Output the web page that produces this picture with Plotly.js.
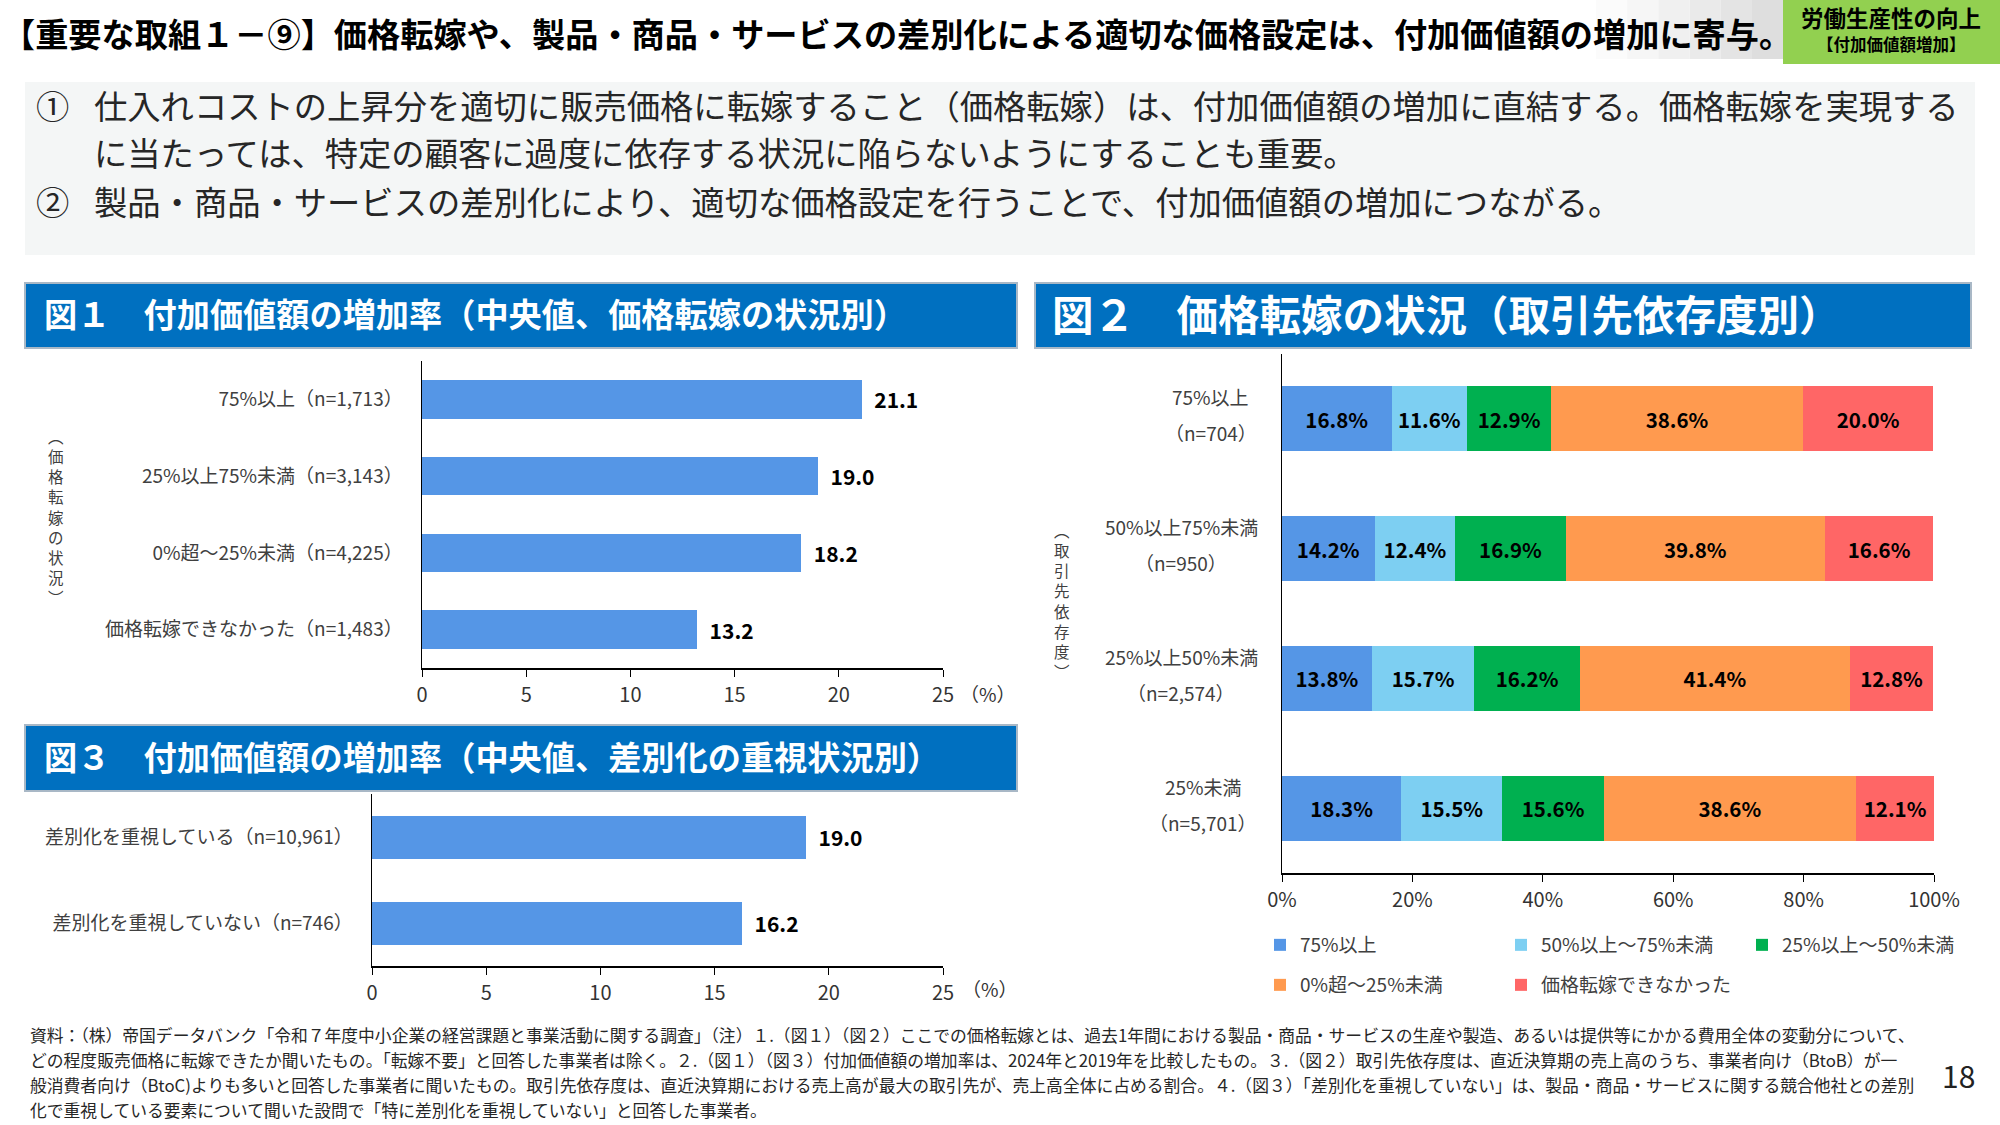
<!DOCTYPE html>
<html>
<head>
<meta charset="utf-8">
<script src="https://cdn.plot.ly/plotly-3.0.1.min.js"></script>
<style>
html,body{margin:0;padding:0;background:#fff;}
#chart{width:2000px;height:1125px;}
</style>
</head>
<body>
<div id="chart"></div>
<script>
// ---------- data ----------
const fig1Categories = ['75%以上（n=1,713）', '25%以上75%未満（n=3,143）', '0%超～25%未満（n=4,225）', '価格転嫁できなかった（n=1,483）'];
const fig1Values = [21.1, 19.0, 18.2, 13.2];

const fig2Groups = ['75%以上', '50%以上75%未満', '25%以上50%未満', '25%未満'];
const fig2N = ['（n=704）', '（n=950）', '（n=2,574）', '（n=5,701）'];
const fig2Series = ['75%以上', '50%以上～75%未満', '25%以上～50%未満', '0%超～25%未満', '価格転嫁できなかった'];
const fig2S1 = [16.8, 14.2, 13.8, 18.3];
const fig2S2 = [11.6, 12.4, 15.7, 15.5];
const fig2S3 = [12.9, 16.9, 16.2, 15.6];
const fig2S4 = [38.6, 39.8, 41.4, 38.6];
const fig2S5 = [20.0, 16.6, 12.8, 12.1];

const fig3Categories = ['差別化を重視している（n=10,961）', '差別化を重視していない（n=746）'];
const fig3Values = [19.0, 16.2];

const pctTicks = [0, 20, 40, 60, 80, 100];

// ---------- style ----------
const FONT = "'Noto Sans CJK JP', 'Noto Sans', sans-serif";
const W = 2000, H = 1125;
const px = v => v / W;
const py = v => 1 - v / H;
const barBlue = '#5596E6';
const seriesColors = ['#5596E6', '#7DCFF2', '#00B050', '#FF9A4F', '#FF6666'];

// ---------- traces ----------
const traces = [];
traces.push({
  type: 'bar', orientation: 'h', x: fig1Values, y: fig1Categories,
  xaxis: 'x', yaxis: 'y', width: 0.5, showlegend: false,
  marker: {color: barBlue},
  texttemplate: '\u00a0\u00a0%{x:.1f}', textposition: 'outside', cliponaxis: false,
  textfont: {family: FONT, size: 21, color: '#000', weight: 'bold'},
  hoverinfo: 'skip'
});
const fig2Values = [fig2S1, fig2S2, fig2S3, fig2S4, fig2S5];
fig2Series.forEach((name, i) => {
  traces.push({
    type: 'bar', orientation: 'h', name: name, x: fig2Values[i], y: fig2Groups,
    xaxis: 'x2', yaxis: 'y2', width: 0.5,
    legend: i < 3 ? 'legend' : 'legend2',
    marker: {color: seriesColors[i]},
    texttemplate: '%{x:.1f}%', textposition: 'inside', insidetextanchor: 'middle',
    textangle: 0, constraintext: 'none',
    textfont: {family: FONT, size: 20.5, color: '#000', weight: 'bold'},
    hoverinfo: 'skip'
  });
});
traces.push({
  type: 'bar', orientation: 'h', x: fig3Values, y: fig3Categories,
  xaxis: 'x3', yaxis: 'y3', width: 0.5, showlegend: false,
  marker: {color: barBlue},
  texttemplate: '\u00a0\u00a0%{x:.1f}', textposition: 'outside', cliponaxis: false,
  textfont: {family: FONT, size: 21, color: '#000', weight: 'bold'},
  hoverinfo: 'skip'
});

// ---------- axes ----------
const xBase = {
  showline: true, linecolor: '#000', linewidth: 2, mirror: false,
  ticks: 'outside', ticklen: 7, tickcolor: '#000', tickwidth: 1,
  showgrid: false, zeroline: false, fixedrange: true, automargin: false,
  tickfont: {family: FONT, size: 20, color: '#333'}, ticklabelstandoff: 1
};
const yBase = {
  type: 'category', showline: true, linecolor: '#000', linewidth: 1.5,
  ticks: '', showgrid: false, zeroline: false, fixedrange: true, automargin: false,
  tickfont: {family: FONT, size: 19, color: '#404040'}, ticklabelstandoff: 14
};

// ---------- shapes ----------
const shapes = [];
const rect = (x0, y0, x1, y1, fill, line) => shapes.push({
  type: 'rect', xref: 'paper', yref: 'paper', layer: 'below',
  x0: px(x0), x1: px(x1), y0: py(y1), y1: py(y0),
  fillcolor: fill, line: line || {width: 0}
});
// gradient box behind end of title
const gradCols = ['#FBFBFB', '#F6F6F6', '#F0F0F0', '#EAEAEA', '#E4E4E4', '#DEDEDE'];
gradCols.forEach((c, i) => rect(1596 + i * 31.2, 0, 1596 + (i + 1) * 31.2, 59, c));
rect(1783, 0, 2000, 64, '#92D050');
rect(25, 82, 1975, 255, '#F4F6F6');
const hdrLine = {color: '#A9B8C6', width: 2};
rect(25, 283, 1017, 348, '#0070C0', hdrLine);
rect(1035, 283, 1971, 348, '#0070C0', hdrLine);
rect(25, 725, 1017, 791, '#0070C0', hdrLine);

// ---------- annotations ----------
const ann = [];
const txt = (x, y, text, size, opts) => ann.push(Object.assign({
  xref: 'paper', yref: 'paper', x: px(x), y: py(y), text: text, showarrow: false,
  xanchor: 'left', yanchor: 'middle',
  font: {family: FONT, size: size, color: '#000'}
}, opts || {}));

txt(0, 33, '<b>【重要な取組１－⑨】価格転嫁や、製品・商品・サービスの差別化による適切な価格設定は、付加価値額の増加に寄与。</b>', 33.2);
txt(1891, 17, '<b>労働生産性の向上</b>', 22.5, {xanchor: 'center'});
txt(1891, 44, '<b>【付加価値額増加】</b>', 16.5, {xanchor: 'center'});

const bodyCol = '#262626';
const bodyFont = {family: FONT, size: 33.3, color: bodyCol};
txt(52, 104, '①', 33, {xanchor: 'center', font: bodyFont});
txt(92, 104, '仕入れコストの上昇分を適切に販売価格に転嫁すること（価格転嫁）は、付加価値額の増加に直結する。価格転嫁を実現する', 33, {font: bodyFont});
txt(92, 152, 'に当たっては、特定の顧客に過度に依存する状況に陥らないようにすることも重要。', 33, {font: bodyFont});
txt(52, 201, '②', 33, {xanchor: 'center', font: bodyFont});
txt(92, 201, '製品・商品・サービスの差別化により、適切な価格設定を行うことで、付加価値額の増加につながる。', 33, {font: bodyFont});

const white = c => ({family: FONT, size: c, color: '#FFFFFF'});
txt(42, 313, '<b>図１　付加価値額の増加率（中央値、価格転嫁の状況別）</b>', 33, {font: white(33.2)});
txt(1050, 313, '<b>図２　価格転嫁の状況（取引先依存度別）</b>', 41, {font: white(41.5)});
txt(42, 755, '<b>図３　付加価値額の増加率（中央値、差別化の重視状況別）</b>', 33, {font: white(33.2)});

// vertical axis titles (one character per line)
const vertical = (str, cx, cy, size) => {
  txt(cx, cy, Array.from(str).join('<br>'), size,
      {xanchor: 'center', font: {family: FONT, size: size, color: '#404040'}});
};
vertical('︵価格転嫁の状況︶', 56, 516, 15.5);
vertical('︵取引先依存度︶', 1062, 600, 15.5);

const grey = s => ({family: FONT, size: s, color: '#333'});
txt(988, 693, '（%）', 19, {xanchor: 'center', font: grey(19)});
txt(990, 988, '（%）', 19, {xanchor: 'center', font: grey(19)});

// figure 2 category labels: two lines centred on each other, block ending near the axis
const emWidth = s => Array.from(s).reduce((w, ch) => {
  if (/[0-9n=]/.test(ch)) return w + 0.55;
  if (ch === '%') return w + 0.83;
  if (ch === ',') return w + 0.25;
  return w + 1;
}, 0);
const labSize = 19, labRight = 1256;
fig2Groups.forEach((g, i) => {
  const wmax = Math.max(emWidth(g), emWidth(fig2N[i])) * labSize;
  const cx = px(labRight - wmax / 2);
  ann.push({xref: 'paper', yref: 'y2', x: cx, y: g, yshift: 22, text: g, showarrow: false,
            xanchor: 'center', yanchor: 'middle', font: {family: FONT, size: labSize, color: '#404040'}});
  ann.push({xref: 'paper', yref: 'y2', x: cx, y: g, yshift: -14, text: fig2N[i], showarrow: false,
            xanchor: 'center', yanchor: 'middle', font: {family: FONT, size: labSize, color: '#404040'}});
});

// footnote
const noteCol = '#262626';
const notes = [
  '資料：（株）帝国データバンク「令和７年度中小企業の経営課題と事業活動に関する調査」（注）１.（図１）（図２）ここでの価格転嫁とは、過去1年間における製品・商品・サービスの生産や製造、あるいは提供等にかかる費用全体の変動分について、',
  'どの程度販売価格に転嫁できたか聞いたもの。「転嫁不要」と回答した事業者は除く。２.（図１）（図３）付加価値額の増加率は、2024年と2019年を比較したもの。３.（図２）取引先依存度は、直近決算期の売上高のうち、事業者向け（BtoB）が一',
  '般消費者向け（BtoC)よりも多いと回答した事業者に聞いたもの。取引先依存度は、直近決算期における売上高が最大の取引先が、売上高全体に占める割合。４.（図３）「差別化を重視していない」は、製品・商品・サービスに関する競合他社との差別',
  '化で重視している要素について聞いた設問で「特に差別化を重視していない」と回答した事業者。'
];
notes.forEach((t, i) => txt(28, 1035 + i * 25, t, 16.8, {font: {family: FONT, size: 16.8, color: noteCol}}));
txt(1958, 1075, '18', 30, {xanchor: 'center', font: {family: FONT, size: 30, color: '#222'}});

// ---------- layout ----------
const legendBase = {
  orientation: 'h', xanchor: 'left', yanchor: 'middle',
  entrywidth: 196, entrywidthmode: 'pixels', bgcolor: 'rgba(0,0,0,0)',
  font: {family: FONT, size: 19, color: '#404040'}, traceorder: 'normal', itemclick: false, itemdoubleclick: false
};
const layout = {
  width: W, height: H, margin: {l: 0, r: 0, t: 0, b: 0, autoexpand: false},
  paper_bgcolor: '#FFFFFF', plot_bgcolor: 'rgba(0,0,0,0)',
  font: {family: FONT, color: '#000'},
  barmode: 'stack', showlegend: true,
  xaxis: Object.assign({}, xBase, {domain: [px(422), px(943)], anchor: 'y', range: [0, 25], tick0: 0, dtick: 5}),
  yaxis: Object.assign({}, yBase, {domain: [py(668), py(361)], anchor: 'x', range: [3.5, -0.5]}),
  xaxis2: Object.assign({}, xBase, {domain: [px(1282), px(1934)], anchor: 'y2', range: [0, 100],
    tickmode: 'array', tickvals: pctTicks, ticktext: pctTicks.map(v => v + '%')}),
  yaxis2: Object.assign({}, yBase, {domain: [py(873), py(354)], anchor: 'x2', range: [3.5, -0.5], showticklabels: false}),
  xaxis3: Object.assign({}, xBase, {domain: [px(372), px(943)], anchor: 'y3', range: [0, 25], tick0: 0, dtick: 5}),
  yaxis3: Object.assign({}, yBase, {domain: [py(966), py(794)], anchor: 'x3', range: [1.5, -0.5]}),
  legend: Object.assign({}, legendBase, {x: px(1260), y: py(945)}),
  legend2: Object.assign({}, legendBase, {x: px(1260), y: py(985)}),
  shapes: shapes,
  annotations: ann
};

Plotly.newPlot('chart', traces, layout, {staticPlot: true, displayModeBar: false});
</script>
</body>
</html>
